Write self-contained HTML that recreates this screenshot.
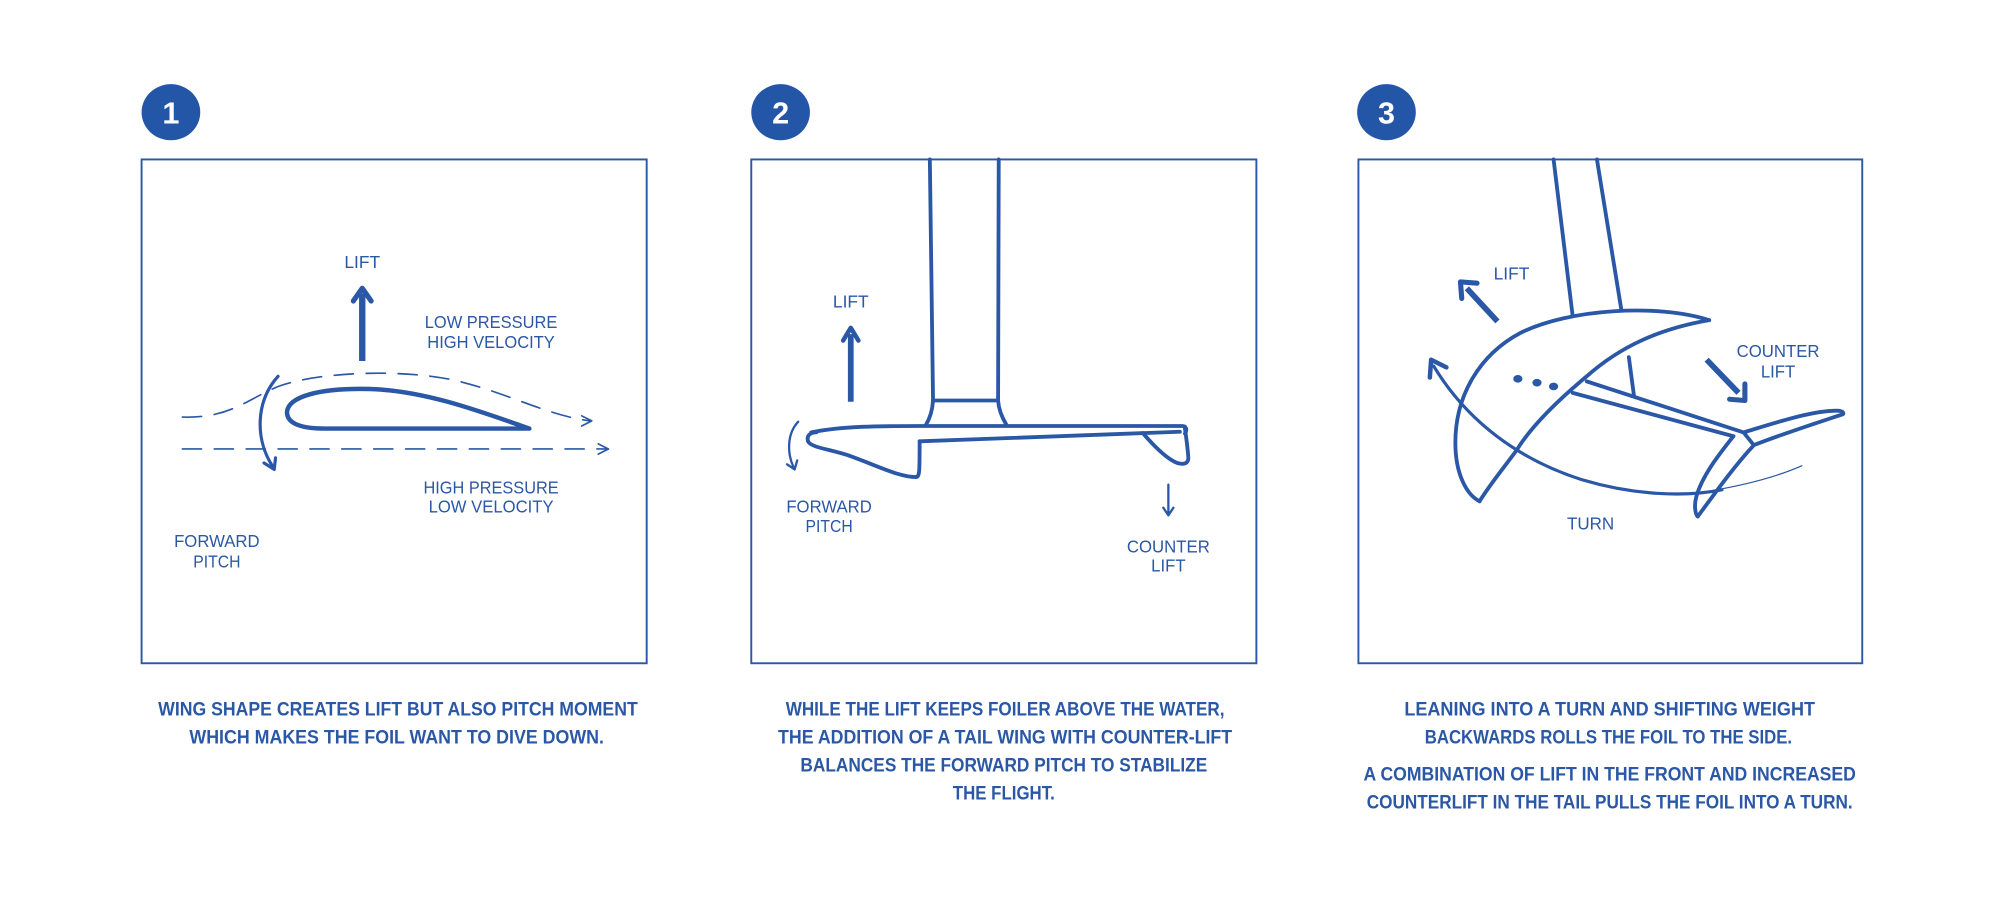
<!DOCTYPE html>
<html><head><meta charset="utf-8"><style>
html,body{margin:0;padding:0;background:#fff;}
svg{display:block;}
.l{font-family:"Liberation Sans Narrow","Liberation Sans",sans-serif;font-size:14px;fill:#2a57a6;text-anchor:middle;}
.c{font-family:"Liberation Sans Narrow","Liberation Sans",sans-serif;font-size:15px;font-weight:bold;fill:#2a57a6;text-anchor:middle;}
.n{font-family:"Liberation Sans",sans-serif;font-size:24px;font-weight:bold;fill:#fff;text-anchor:middle;}
</style></head><body>
<svg width="2000" height="900" viewBox="0 0 1568 705.6" xmlns="http://www.w3.org/2000/svg">
<g fill="none" stroke="#2a57a6">
<rect x="111" y="125" width="396" height="395" stroke-width="1.5"/>
<rect x="589" y="125" width="396" height="395" stroke-width="1.5"/>
<rect x="1065" y="125" width="395" height="395" stroke-width="1.5"/>
</g>
<g fill="#2456a8">
<ellipse cx="134" cy="88" rx="23" ry="22"/>
<ellipse cx="612" cy="88" rx="23" ry="22"/>
<ellipse cx="1087" cy="88" rx="23" ry="22"/>
</g>
<text class="n" x="134" y="97">1</text>
<text class="n" x="612" y="97">2</text>
<text class="n" x="1087" y="97">3</text>

<!-- Panel 1 -->
<g fill="none" stroke="#2a57a6" stroke-linecap="round" stroke-linejoin="round">
<path d="M415,336 C370,320 330,306 290,305 C250,304 226,311 225,323 C225,333 238,336 255,336 L415,336" stroke-width="3.5"/>
<path d="M143,327 C180,328 192,314 218,303 C250,291 320,289 360,299 C400,309 430,326 463,330" stroke-width="1.3" stroke-dasharray="15,10"/>
<path d="M456,326 L464,330 L456,334" stroke-width="1.3"/>
<path d="M143,352 L477,352" stroke-width="1.3" stroke-dasharray="15,10"/>
<path d="M469,348 L477,352 L469,356" stroke-width="1.3"/>
<path d="M284,283 L284,230" stroke-width="5" stroke-linecap="butt"/>
<path d="M277,236 L284,226 L291,236" stroke-width="4"/>
<path d="M218,295 C200,315 200,345 214,366" stroke-width="2.5"/>
<path d="M207,363 L215,368 L216,359" stroke-width="2.5"/>
</g>
<text class="l" x="284" y="210" textLength="28" lengthAdjust="spacingAndGlyphs">LIFT</text>
<text class="l" x="385" y="257" textLength="104" lengthAdjust="spacingAndGlyphs">LOW PRESSURE</text>
<text class="l" x="385" y="273" textLength="100" lengthAdjust="spacingAndGlyphs">HIGH VELOCITY</text>
<text class="l" x="385" y="387" textLength="106" lengthAdjust="spacingAndGlyphs">HIGH PRESSURE</text>
<text class="l" x="385" y="402" textLength="98" lengthAdjust="spacingAndGlyphs">LOW VELOCITY</text>
<text class="l" x="170" y="429" textLength="67" lengthAdjust="spacingAndGlyphs">FORWARD</text>
<text class="l" x="170" y="445" textLength="37" lengthAdjust="spacingAndGlyphs">PITCH</text>
<text class="c" x="312" y="561" textLength="376" lengthAdjust="spacingAndGlyphs">WING SHAPE CREATES LIFT BUT ALSO PITCH MOMENT</text>
<text class="c" x="311" y="583" textLength="325" lengthAdjust="spacingAndGlyphs">WHICH MAKES THE FOIL WANT TO DIVE DOWN.</text>

<!-- Panel 2 -->
<g fill="none" stroke="#2a57a6" stroke-linecap="round" stroke-linejoin="round" stroke-width="3">
<path d="M729,125 L731.5,314"/>
<path d="M783,125 L782.5,314"/>
<path d="M731.5,314 L782.5,314"/>
<path d="M731.5,314 C731,322 729,328 726,333"/>
<path d="M782.5,314 C783,322 786,328 789,333"/>
<path d="M636,339 C660,334 690,334 720,334 L927,334 C930,334 931,337 929,340"/>
<path d="M721,346 L925,338.5"/>
<path d="M633.5,346 C632,341 636,339 640,339"/>
<path d="M633.5,346 C636,351 650,352 665,357 C690,366 705,374 718,374 C721,374 721,370 721,346"/>
<path d="M896,339.6 C905,350 915,360 923,363 C930,365 932,362 931.6,358 C931,350 930,343 929,336"/>
<path d="M667,315 L667,262" stroke-width="4.5" stroke-linecap="butt"/>
<path d="M661,267 L667,257 L673,267" stroke-width="3.5"/>
<path d="M625.8,330.6 C617,340 617,355 622,366" stroke-width="1.8"/>
<path d="M617,364 L623,368 L625,361" stroke-width="1.8"/>
<path d="M916,380 L916,403" stroke-width="1.8"/>
<path d="M912,398 L916,404 L920,398" stroke-width="1.8"/>
</g>
<text class="l" x="667" y="241" textLength="28" lengthAdjust="spacingAndGlyphs">LIFT</text>
<text class="l" x="650" y="402" textLength="67" lengthAdjust="spacingAndGlyphs">FORWARD</text>
<text class="l" x="650" y="417" textLength="37" lengthAdjust="spacingAndGlyphs">PITCH</text>
<text class="l" x="916" y="433" textLength="65" lengthAdjust="spacingAndGlyphs">COUNTER</text>
<text class="l" x="916" y="448" textLength="27" lengthAdjust="spacingAndGlyphs">LIFT</text>
<text class="c" x="788" y="561" textLength="344" lengthAdjust="spacingAndGlyphs">WHILE THE LIFT KEEPS FOILER ABOVE THE WATER,</text>
<text class="c" x="788" y="583" textLength="356" lengthAdjust="spacingAndGlyphs">THE ADDITION OF A TAIL WING WITH COUNTER-LIFT</text>
<text class="c" x="787" y="605" textLength="319" lengthAdjust="spacingAndGlyphs">BALANCES THE FORWARD PITCH TO STABILIZE</text>
<text class="c" x="787" y="627" textLength="80" lengthAdjust="spacingAndGlyphs">THE FLIGHT.</text>

<!-- Panel 3 -->
<g fill="none" stroke="#2a57a6" stroke-linecap="round" stroke-linejoin="round" stroke-width="3">
<path d="M1218,125 L1233,248"/>
<path d="M1252,125 L1271,242"/>
<path d="M1277,280 L1281,310"/>
<path d="M1340,251 C1300,238 1230,242 1192,261 C1160,278 1141,310 1141,347 C1141,372 1150,388 1160,393"/>
<path d="M1340,251 C1300,258 1270,272 1244,295 C1220,315 1200,335 1189,353 C1178,368 1168,380 1160,393"/>
<path d="M1244,299 L1367,339"/>
<path d="M1233,308 L1359,342"/>
<path d="M1367,339 C1390,332 1420,322 1440,322 C1446,322 1446,325 1444,325 C1420,333 1395,341 1375,349 Z"/>
<path d="M1359,342 C1348,356 1335,372 1330,389 C1328,396 1329,403 1331,405 C1345,386 1360,365 1375,349"/>
<path d="M1174,252 L1150,226" stroke-width="4.5" stroke-linecap="butt"/>
<path d="M1146,234 L1145,221 L1158,222" stroke-width="4"/>
<path d="M1338,282 L1363,308" stroke-width="4.5" stroke-linecap="butt"/>
<path d="M1368,301 L1368,314 L1356,313" stroke-width="4"/>
<path d="M1124,287 C1150,330 1190,360 1240,376 C1280,388 1320,390 1350,384" stroke-width="2.5"/>
<path d="M1121,296 L1122,282 L1134,288" stroke-width="3.5"/>
</g>
<path d="M1340,385 C1370,380 1395,373 1413,365" fill="none" stroke="#2a57a6" stroke-width="1"/>
<g fill="#2a57a6">
<ellipse cx="1190" cy="297" rx="3.6" ry="3"/>
<ellipse cx="1205" cy="300" rx="3.6" ry="3"/>
<ellipse cx="1218" cy="303" rx="3.6" ry="3"/>
</g>
<text class="l" x="1185" y="219" textLength="28" lengthAdjust="spacingAndGlyphs">LIFT</text>
<text class="l" x="1394" y="280" textLength="65" lengthAdjust="spacingAndGlyphs">COUNTER</text>
<text class="l" x="1394" y="296" textLength="27" lengthAdjust="spacingAndGlyphs">LIFT</text>
<text class="l" x="1247" y="415" textLength="37" lengthAdjust="spacingAndGlyphs">TURN</text>
<text class="c" x="1262" y="561" textLength="322" lengthAdjust="spacingAndGlyphs">LEANING INTO A TURN AND SHIFTING WEIGHT</text>
<text class="c" x="1261" y="583" textLength="288" lengthAdjust="spacingAndGlyphs">BACKWARDS ROLLS THE FOIL TO THE SIDE.</text>
<text class="c" x="1262" y="612" textLength="386" lengthAdjust="spacingAndGlyphs">A COMBINATION OF LIFT IN THE FRONT AND INCREASED</text>
<text class="c" x="1262" y="634" textLength="381" lengthAdjust="spacingAndGlyphs">COUNTERLIFT IN THE TAIL PULLS THE FOIL INTO A TURN.</text>
</svg>
</body></html>
